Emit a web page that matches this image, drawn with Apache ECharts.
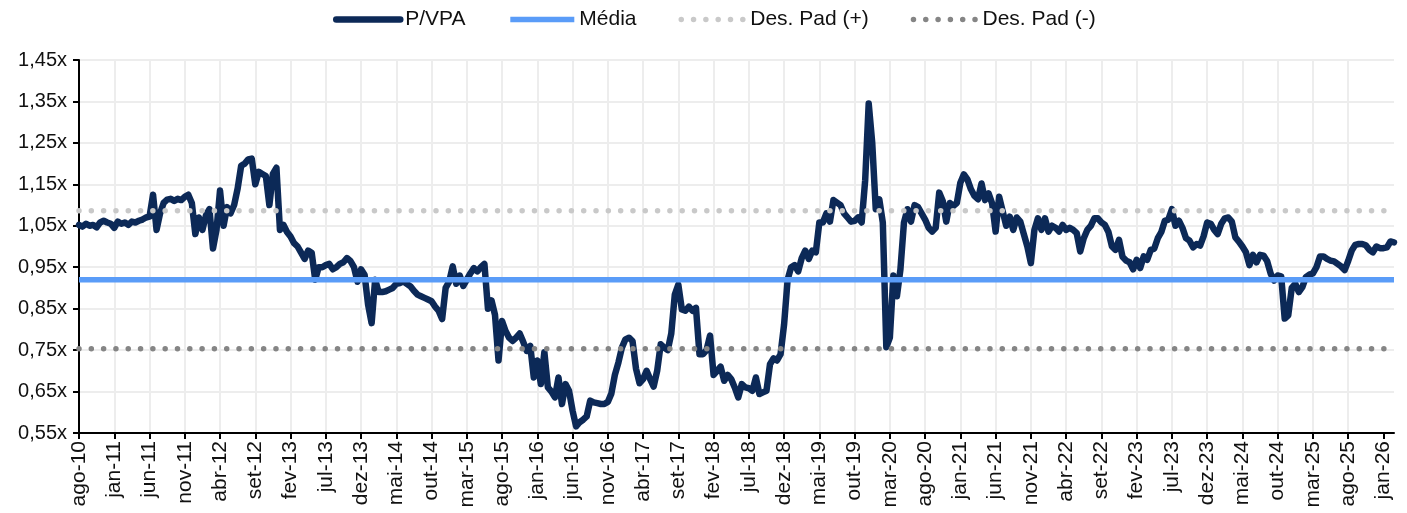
<!DOCTYPE html>
<html>
<head>
<meta charset="utf-8">
<script src="https://cdn.jsdelivr.net/npm/echarts@6/dist/echarts.min.js"></script>
<style>
  html, body { margin: 0; padding: 0; background: #fff; }
  #chart { width: 1407px; height: 513px; }
</style>
</head>
<body>
<div id="chart"></div>
<script>
// x = months since ago-10, one value every half month
const tickLabels = ['ago-10', 'jan-11', 'jun-11', 'nov-11', 'abr-12', 'set-12', 'fev-13', 'jul-13', 'dez-13',
  'mai-14', 'out-14', 'mar-15', 'ago-15', 'jan-16', 'jun-16', 'nov-16', 'abr-17', 'set-17', 'fev-18', 'jul-18',
  'dez-18', 'mai-19', 'out-19', 'mar-20', 'ago-20', 'jan-21', 'jun-21', 'nov-21', 'abr-22', 'set-22', 'fev-23',
  'jul-23', 'dez-23', 'mai-24', 'out-24', 'mar-25', 'ago-25', 'jan-26'];

const pvpa = [
  // 2010 (ago-dez)
  1.052, 1.048, 1.055, 1.05, 1.052, 1.046, 1.058, 1.062, 1.058, 1.055,
  // 2011
  1.045, 1.06, 1.055, 1.058, 1.052, 1.06, 1.058, 1.062, 1.065, 1.07, 1.072, 1.125,
  1.04, 1.08, 1.105, 1.113, 1.115, 1.11, 1.115, 1.112, 1.12, 1.125, 1.105, 1.03,
  // 2012
  1.07, 1.04, 1.075, 1.09, 0.995, 1.04, 1.135, 1.05, 1.095, 1.08, 1.10, 1.14,
  1.195, 1.20, 1.21, 1.212, 1.15, 1.18, 1.175, 1.17, 1.10, 1.175, 1.19, 1.04,
  // 2013
  1.052, 1.035, 1.024, 1.008, 1.0, 0.985, 0.97, 0.99, 0.985, 0.92, 0.95, 0.95,
  0.955, 0.958, 0.945, 0.95, 0.958, 0.962, 0.972, 0.965, 0.95, 0.915, 0.945, 0.932,
  // 2014
  0.86, 0.815, 0.92, 0.89, 0.89, 0.892, 0.896, 0.9, 0.91, 0.912, 0.916, 0.91,
  0.904, 0.893, 0.884, 0.88, 0.876, 0.872, 0.868, 0.855, 0.845, 0.825, 0.90, 0.915,
  // 2015
  0.952, 0.91, 0.93, 0.905, 0.92, 0.935, 0.948, 0.94, 0.95, 0.958, 0.85, 0.87,
  0.835, 0.725, 0.82, 0.796, 0.78, 0.772, 0.78, 0.79, 0.77, 0.748, 0.76, 0.684,
  // 2016
  0.725, 0.668, 0.745, 0.66, 0.65, 0.636, 0.684, 0.62, 0.668, 0.652, 0.604, 0.566,
  0.576, 0.582, 0.59, 0.628, 0.624, 0.622, 0.62, 0.62, 0.625, 0.645, 0.69, 0.72,
  // 2017
  0.756, 0.776, 0.78, 0.772, 0.705, 0.67, 0.68, 0.70, 0.68, 0.662, 0.70, 0.764,
  0.756, 0.75, 0.79, 0.884, 0.908, 0.848, 0.845, 0.855, 0.845, 0.852, 0.74, 0.74,
  // 2018
  0.75, 0.785, 0.69, 0.70, 0.71, 0.676, 0.69, 0.68, 0.66, 0.636, 0.668, 0.66,
  0.658, 0.652, 0.684, 0.644, 0.648, 0.652, 0.716, 0.73, 0.725, 0.74, 0.812, 0.92,
  // 2019
  0.95, 0.955, 0.94, 0.972, 0.99, 0.97, 0.99, 0.986, 1.058, 1.058, 1.08, 1.06,
  1.112, 1.106, 1.10, 1.08, 1.07, 1.06, 1.062, 1.07, 1.058, 1.16, 1.345, 1.25,
  // 2020
  1.09, 1.114, 1.058, 0.757, 0.78, 0.93, 0.88, 0.945, 1.058, 1.09, 1.06, 1.10,
  1.095, 1.08, 1.065, 1.045, 1.036, 1.045, 1.13, 1.11, 1.06, 1.105, 1.098, 1.105,
  // 2021
  1.154, 1.174, 1.162, 1.138, 1.122, 1.114, 1.152, 1.112, 1.128, 1.104, 1.036, 1.12,
  1.085, 1.05, 1.072, 1.04, 1.07, 1.06, 1.03, 1.0, 0.96, 1.04, 1.068, 1.04,
  // 2022
  1.068, 1.036, 1.05, 1.045, 1.036, 1.052, 1.04, 1.045, 1.04, 1.032, 0.988, 1.02,
  1.04, 1.05, 1.068, 1.068, 1.058, 1.052, 1.035, 1.0, 0.992, 1.016, 0.975, 0.966,
  // 2023
  0.962, 0.945, 0.968, 0.948, 0.976, 0.968, 0.992, 0.995, 1.02, 1.035, 1.062, 1.065,
  1.09, 1.05, 1.062, 1.045, 1.02, 1.014, 0.998, 1.006, 1.002, 1.025, 1.058, 1.055,
  // 2024
  1.04, 1.03, 1.055, 1.068, 1.07, 1.06, 1.022, 1.012, 1.0, 0.986, 0.955, 0.98,
  0.962, 0.98, 0.978, 0.965, 0.935, 0.918, 0.93, 0.928, 0.826, 0.834, 0.9, 0.91,
  // 2025
  0.89, 0.902, 0.926, 0.932, 0.935, 0.95, 0.976, 0.976, 0.97, 0.966, 0.964, 0.958,
  0.952, 0.943, 0.965, 0.99, 1.004, 1.006, 1.006, 1.003, 0.992, 0.986, 1.0, 0.996,
  // 2026
  0.996, 0.998, 1.012, 1.01
];

const media = 0.92;
const desPadPlus = 1.086;
const desPadMinus = 0.753;

const step = 0.5;
const lastX = (pvpa.length - 1) * step;
const pvpaData = pvpa.map((v, i) => [i * step, v]);
const flat = v => [[0, v], [lastX, v]];
const tickValues = tickLabels.map((_, i) => i * 5);

const font = 'Liberation Sans, Arial, sans-serif';
const dots = [0.01, 12.3];
const chart = echarts.init(document.getElementById('chart'));

chart.setOption({
  animation: false,
  backgroundColor: '#fff',
  textStyle: { fontFamily: font },
  legend: {
    left: 328,
    top: 4,
    itemWidth: 64,
    itemHeight: 22,
    itemGap: 42,
    itemStyle: { opacity: 0 },
    lineStyle: { width: 'inherit' },
    textStyle: { fontSize: 21, color: '#111', fontFamily: font },
    data: ['P/VPA', 'Média', 'Des. Pad (+)', 'Des. Pad (-)']
  },
  grid: { left: 79, right: 13, top: 60, bottom: 80 },
  xAxis: {
    type: 'value',
    min: 0,
    max: lastX,
    interval: 5,
    axisLine: { show: true, lineStyle: { color: '#000', width: 2 } },
    axisTick: { show: true, length: 6, lineStyle: { color: '#000', width: 2 }, customValues: tickValues },
    axisLabel: {
      rotate: 90,
      margin: 8,
      fontSize: 21,
      color: '#111',
      fontFamily: font,
      customValues: tickValues,
      formatter: v => tickLabels[Math.round(v / 5)]
    },
    splitLine: { show: true, showMaxLine: false, lineStyle: { color: '#ededed', width: 2 } }
  },
  yAxis: {
    type: 'value',
    min: 0.55,
    max: 1.45,
    interval: 0.1,
    axisLine: { show: true, lineStyle: { color: '#000', width: 2 } },
    axisTick: { show: true, length: 6, lineStyle: { color: '#000', width: 2 } },
    axisLabel: {
      margin: 12,
      fontSize: 20,
      color: '#111',
      fontFamily: font,
      formatter: v => v.toFixed(2).replace('.', ',') + 'x'
    },
    splitLine: { show: true, lineStyle: { color: '#ededed', width: 2 } }
  },
  series: [
    {
      name: 'P/VPA', type: 'line', data: pvpaData, showSymbol: false, symbol: 'none',
      lineStyle: { color: '#0c2957', width: 6.5, join: 'round', cap: 'round' },
      itemStyle: { color: '#0c2957' }
    },
    {
      name: 'Média', type: 'line', data: flat(media), showSymbol: false, symbol: 'none',
      lineStyle: { color: '#5a9cf8', width: 5.5 },
      itemStyle: { color: '#5a9cf8' }
    },
    {
      name: 'Des. Pad (+)', type: 'line', data: flat(desPadPlus), showSymbol: false, symbol: 'none',
      lineStyle: { color: '#c9c9c9', width: 5.5, type: dots, cap: 'round' },
      itemStyle: { color: '#c9c9c9' }
    },
    {
      name: 'Des. Pad (-)', type: 'line', data: flat(desPadMinus), showSymbol: false, symbol: 'none',
      lineStyle: { color: '#858585', width: 5.5, type: dots, cap: 'round' },
      itemStyle: { color: '#858585' }
    }
  ]
});
</script>
</body>
</html>
